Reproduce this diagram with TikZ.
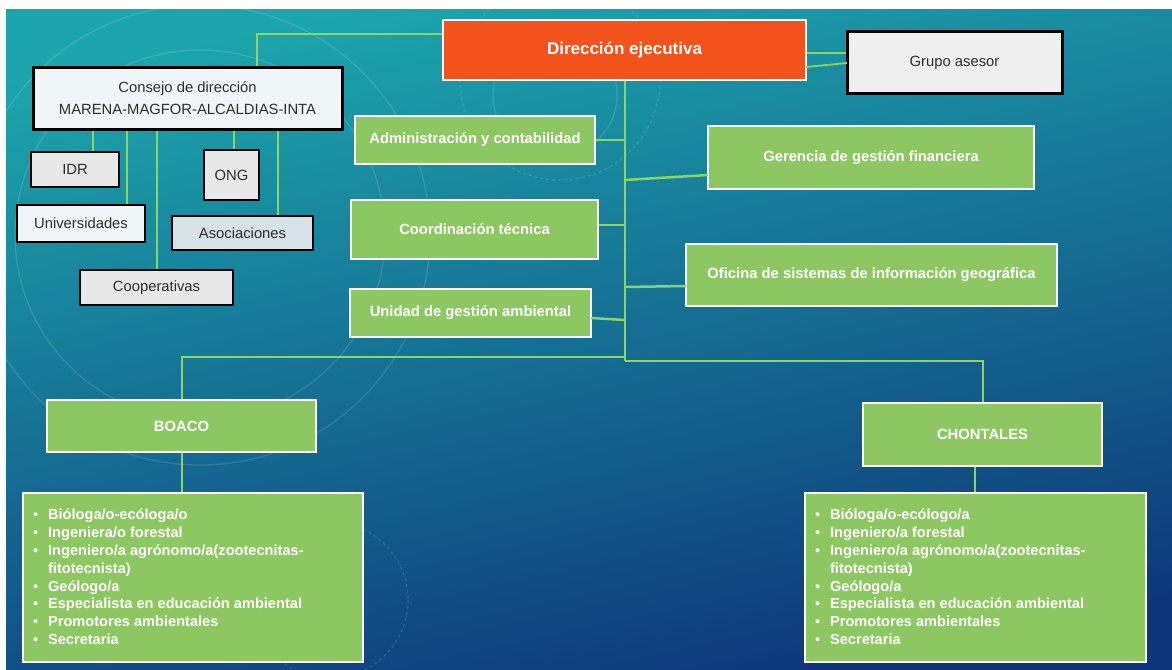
\documentclass[tikz,border=0pt]{standalone}
\usepackage{fontspec}
\setmainfont{Liberation Sans}
\usetikzlibrary{calc}
\definecolor{bgA}{RGB}{28,165,172}
\definecolor{bgB}{RGB}{22,112,162}
\definecolor{bgC}{RGB}{14,55,122}
\definecolor{gfill}{RGB}{141,199,98}
\definecolor{orfill}{RGB}{242,82,28}
\definecolor{lcol}{RGB}{140,212,100}
\definecolor{grayA}{RGB}{232,232,232}
\definecolor{grayB}{RGB}{240,246,248}
\definecolor{grayC}{RGB}{214,226,230}
\definecolor{txtgray}{RGB}{45,45,45}
\tikzset{
  greenbox/.style={draw=white, line width=2.2pt, fill=gfill, text=white,
    font=\fontsize{14.8}{17}\selectfont\bfseries, inner sep=0pt},
  orangebox/.style={draw=white, line width=2pt, fill=orfill, text=white,
    font=\fontsize{17}{19}\selectfont\bfseries, inner sep=0pt},
  blackbox/.style={draw=black, line width=3pt, fill=grayB, text=txtgray,
    font=\fontsize{14.8}{22}\selectfont, inner sep=0pt, align=center},
  thinbox/.style={draw=black, line width=1.4pt, fill=grayA, text=txtgray,
    font=\fontsize{14.8}{17}\selectfont, inner sep=0pt},
  conn/.style={draw=lcol, line width=2.5pt},
  deco/.style={draw=white, opacity=0.13, line width=1.2pt},
  listtext/.style={anchor=base west, inner sep=0pt, text=white,
    font=\fontsize{14.6}{17.8}\selectfont\bfseries}
}
\newcommand{\bul}{\makebox[15pt][l]{\textcolor{white!85!gray}{•}}}
\begin{document}
\begin{tikzpicture}[x=1pt,y=-1pt]
\useasboundingbox (0,0) rectangle (1172,669);
\fill[white] (0,0) rectangle (1172,669);
\shade[top color=bgA, middle color=bgB, bottom color=bgC, shading angle=12] (6,10) rectangle (1172,669);
% faint background decoration
\begin{scope}
\clip (6,10) rectangle (1172,669);
\draw[deco] (200,235) circle[radius=230];
\draw[deco] (200,235) circle[radius=185];
\draw[deco] (555,95) circle[radius=62];
\draw[deco, dashed] (330,600) circle[radius=78];
\draw[deco, dashed] (560,80) circle[radius=100];
\end{scope}

% nodes
\node[orangebox, minimum width=363, minimum height=60] (dir) at (624.5,50) {Dirección ejecutiva};
\node[blackbox, minimum width=215, minimum height=61, fill=grayA!70!white] (grupo) at (954.5,62.5) {Grupo asesor};
\node[blackbox, minimum width=309, minimum height=61] (consejo) at (187.5,98.5) {Consejo de dirección\\MARENA-MAGFOR-ALCALDIAS-INTA};
\node[thinbox, minimum width=88, minimum height=35] (idr) at (75,169.5) {IDR};
\node[thinbox, fill=grayB, minimum width=128, minimum height=37] (univ) at (81,223.5) {Universidades};
\node[thinbox, minimum width=153, minimum height=35] (coop) at (156.5,287.5) {Cooperativas};
\node[thinbox, minimum width=55, minimum height=50] (ong) at (231.5,175) {ONG};
\node[thinbox, fill=grayC, minimum width=141, minimum height=34] (asoc) at (242.5,233) {Asociaciones};

\node[greenbox, minimum width=240, minimum height=48] (admin) at (475,140) {Administración y contabilidad};
\node[greenbox, minimum width=247, minimum height=59] (coord) at (474.5,229.5) {Coordinación técnica};
\node[greenbox, minimum width=241, minimum height=48] (unidad) at (470.5,313) {Unidad de gestión ambiental};
\node[greenbox, minimum width=326, minimum height=63] (geren) at (871,157.5) {Gerencia de gestión financiera};
\node[greenbox, minimum width=371, minimum height=62] (ofic) at (871.5,275) {Oficina de sistemas de información geográfica};

\node[greenbox, minimum width=269, minimum height=52] (boaco) at (181.5,426) {BOACO};
\node[greenbox, minimum width=239, minimum height=63] (chont) at (982.5,434.5) {CHONTALES};
\node[greenbox, minimum width=340, minimum height=169] (boacol) at (193,577.5) {};
\node[greenbox, minimum width=341, minimum height=169] (chontl) at (975.5,577.5) {};

\node[listtext] (boacot) at ($(boacol.north west)+(11,28)$) {\begin{tabular}[t]{@{}l@{}}
\bul Bióloga/o-ecóloga/o\\
\bul Ingeniera/o forestal\\
\bul Ingeniero/a agrónomo/a(zootecnitas-\\
\hspace*{15pt}fitotecnista)\\
\bul Geólogo/a\\
\bul Especialista en educación ambiental\\
\bul Promotores ambientales\\
\bul Secretaria
\end{tabular}};
\node[listtext] (chontt) at ($(chontl.north west)+(11,28)$) {\begin{tabular}[t]{@{}l@{}}
\bul Bióloga/o-ecólogo/a\\
\bul Ingeniero/a forestal\\
\bul Ingeniero/a agrónomo/a(zootecnitas-\\
\hspace*{15pt}fitotecnista)\\
\bul Geólogo/a\\
\bul Especialista en educación ambiental\\
\bul Promotores ambientales\\
\bul Secretaria
\end{tabular}};

% helper coordinates
\coordinate (k1) at (257,34);
\coordinate (xidr) at (93,0);
\coordinate (xuniv) at (127,0);
\coordinate (xcoop) at (157,0);
\coordinate (xong) at (234,0);
\coordinate (xasoc) at (278,0);
\coordinate (g1) at (0,53);
\coordinate (g2a) at (806,67);
\coordinate (g2b) at (847,63);
\coordinate (tb) at (625,361);
\coordinate (tl) at (625,357);
\coordinate (ycoord) at (0,225);
\coordinate (ger1) at (625,180);
\coordinate (ger2) at (708,175);
\coordinate (of1) at (625,287);
\coordinate (of2) at (686,286);
\coordinate (un1) at (591,318);
\coordinate (un2) at (625,320);
\coordinate (xboaco) at (182,0);
\coordinate (xch) at (983,0);
\coordinate (xchl) at (975,0);

% connectors
\draw[conn] (consejo.north -| k1) -- (k1) -- (dir.west |- k1);
\draw[conn] (consejo.south -| xidr) -- (idr.north -| xidr);
\draw[conn] (consejo.south -| xuniv) -- (univ.north -| xuniv);
\draw[conn] (consejo.south -| xcoop) -- (coop.north -| xcoop);
\draw[conn] (consejo.south -| xong) -- (ong.north -| xong);
\draw[conn] (consejo.south -| xasoc) -- (asoc.north -| xasoc);
\draw[conn] (dir.east |- g1) -- (grupo.west |- g1);
\draw[conn, line width=1.8pt] (g2a) -- (g2b);
\draw[conn] (dir.south -| tb) -- (tb);
\draw[conn] (admin.east) -- (admin.east -| tb);
\draw[conn] (coord.east |- ycoord) -- (tb |- ycoord);
\draw[conn] (un1) -- (un2);
\draw[conn] (ger1) -- (ger2);
\draw[conn] (of1) -- (of2);
\draw[conn] (tl) -- (tl -| xboaco) -- (boaco.north -| xboaco);
\draw[conn] (tb) -- (tb -| xch) -- (chont.north -| xch);
\draw[conn] (boaco.south -| xboaco) -- (boacol.north -| xboaco);
\draw[conn] (chont.south -| xchl) -- (chontl.north -| xchl);
\end{tikzpicture}
\end{document}
